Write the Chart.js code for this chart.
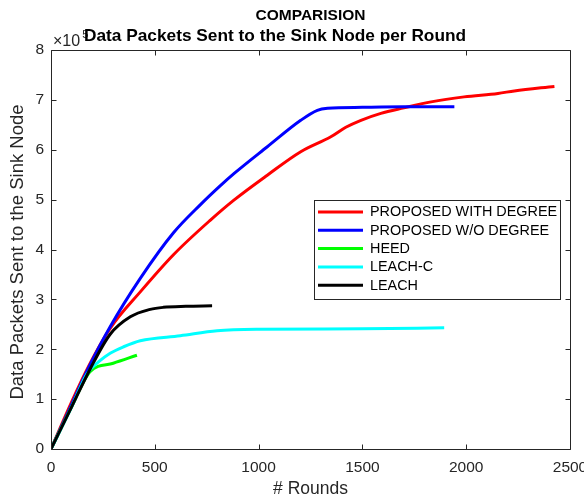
<!DOCTYPE html>
<html>
<head>
<meta charset="utf-8">
<script src="https://cdn.jsdelivr.net/npm/chart.js@4.4.1/dist/chart.umd.min.js"></script>
<style>
  html, body { margin: 0; padding: 0; background: #fff; }
  #c { display: block; }
</style>
</head>
<body>
<canvas id="c" width="584" height="500"></canvas>
<script>
// Labels
const mainTitle = 'COMPARISION';
const subTitle = 'Data Packets Sent to the Sink Node per Round';
const xAxisTitle = '# Rounds';
const yAxisTitle = 'Data Packets Sent to the Sink Node';
const yExponent = '5';
const xTickValues = [0, 500, 1000, 1500, 2000, 2500];
const yTickValues = [0, 1, 2, 3, 4, 5, 6, 7, 8];

const seriesNames = ['PROPOSED WITH DEGREE', 'PROPOSED W/O DEGREE', 'HEED', 'LEACH-C', 'LEACH'];
const seriesColors = ['#ff0000', '#0000ff', '#00ff00', '#00ffff', '#000000'];

// Rounds and cumulative packets (in units of 10^5) for each protocol
const withDegreeRounds = [0, 100, 180, 285, 430, 591, 768, 881, 1042, 1203, 1348, 1420, 1493, 1589, 1700, 1831, 1990, 2153, 2232, 2425];
const withDegreePackets = [0, 0.95, 1.65, 2.42, 3.15, 3.9, 4.59, 4.99, 5.49, 5.96, 6.26, 6.45, 6.59, 6.73, 6.84, 6.96, 7.06, 7.13, 7.18, 7.27];

const withoutDegreeRounds = [0, 100, 180, 285, 430, 591, 720, 816, 881, 1042, 1203, 1283, 1332, 1500, 1700, 1943];
const withoutDegreePackets = [0, 0.9, 1.62, 2.45, 3.42, 4.34, 4.9, 5.28, 5.52, 6.06, 6.59, 6.79, 6.83, 6.85, 6.86, 6.86];

const heedRounds = [0, 100, 188, 300, 414];
const heedPackets = [0, 0.85, 1.55, 1.72, 1.88];

const leachCRounds = [0, 100, 172, 230, 285, 350, 430, 623, 800, 1000, 1500, 1894];
const leachCPackets = [0, 0.85, 1.5, 1.75, 1.92, 2.05, 2.17, 2.27, 2.37, 2.4, 2.41, 2.43];

const leachRounds = [0, 100, 188, 285, 382, 478, 541, 650, 776];
const leachPackets = [0, 0.85, 1.6, 2.3, 2.65, 2.8, 2.84, 2.86, 2.87];

const seriesRounds = [withDegreeRounds, withoutDegreeRounds, heedRounds, leachCRounds, leachRounds];
const seriesPackets = [withDegreePackets, withoutDegreePackets, heedPackets, leachCPackets, leachPackets];

const FONT = "'Liberation Sans', Arial, Helvetica, sans-serif";
const AXIS_COLOR = '#262626';
const TICK_SIZE = 15.5;
const LABEL_SIZE = 17.5;
const Y_LABEL_SIZE = 18.5;

const datasets = seriesNames.map((name, i) => ({
  label: name,
  data: seriesRounds[i].map((r, j) => ({ x: r, y: seriesPackets[i][j] })),
  borderColor: seriesColors[i],
  backgroundColor: seriesColors[i],
  borderWidth: 3,
  pointRadius: 0,
  fill: false,
  cubicInterpolationMode: 'monotone',
  borderCapStyle: 'butt',
  order: seriesNames.length - i
}));

// Axis exponent, subtitle and y-axis label
const textPlugin = {
  id: 'extraText',
  afterDraw(chart) {
    const ctx = chart.ctx;
    const a = chart.chartArea;
    ctx.save();
    ctx.fillStyle = AXIS_COLOR;
    ctx.textBaseline = 'alphabetic';
    ctx.textAlign = 'left';
    ctx.font = `16px ${FONT}`;
    const base = '\u00d710';
    ctx.fillText(base, a.left + 2, a.top - 4);
    const w = ctx.measureText(base).width;
    ctx.font = `11px ${FONT}`;
    ctx.fillText(yExponent, a.left + 4 + w, a.top - 12);

    ctx.fillStyle = '#000';
    ctx.textAlign = 'center';
    ctx.textBaseline = 'middle';
    ctx.font = `bold 17.3px ${FONT}`;
    ctx.fillText(subTitle, 275, 36);

    ctx.fillStyle = AXIS_COLOR;
    ctx.font = `${Y_LABEL_SIZE}px ${FONT}`;
    ctx.translate(18, 252);
    ctx.rotate(-Math.PI / 2);
    ctx.fillText(yAxisTitle, 0, 0);
    ctx.restore();
  }
};

// Box outline, inward ticks and the legend
const framePlugin = {
  id: 'frame',
  afterDraw(chart) {
    const ctx = chart.ctx;
    const a = chart.chartArea;
    const xs = chart.scales.x, ys = chart.scales.y;
    const L = Math.round(a.left) + 0.5, R = Math.round(a.right) + 0.5;
    const T = Math.round(a.top) + 0.5, B = Math.round(a.bottom) + 0.5;
    ctx.save();
    ctx.strokeStyle = AXIS_COLOR;
    ctx.lineWidth = 1;
    ctx.beginPath();
    ctx.rect(L, T, R - L, B - T);
    const tl = 5;
    xTickValues.forEach(v => {
      const px = Math.round(xs.getPixelForValue(v)) + 0.5;
      ctx.moveTo(px, B); ctx.lineTo(px, B - tl);
      ctx.moveTo(px, T); ctx.lineTo(px, T + tl);
    });
    yTickValues.forEach(v => {
      const py = Math.round(ys.getPixelForValue(v)) + 0.5;
      ctx.moveTo(L, py); ctx.lineTo(L + tl, py);
      ctx.moveTo(R, py); ctx.lineTo(R - tl, py);
    });
    ctx.stroke();

    // legend
    const lx = 314.5, ly = 200.5, lw = 246, lh = 99;
    ctx.fillStyle = '#fff';
    ctx.fillRect(lx, ly, lw, lh);
    ctx.strokeStyle = AXIS_COLOR;
    ctx.strokeRect(lx, ly, lw, lh);
    ctx.font = `14.4px ${FONT}`;
    ctx.textBaseline = 'middle';
    ctx.textAlign = 'left';
    chart.data.datasets.forEach((ds, i) => {
      const y = 212 + i * 18.3;
      ctx.strokeStyle = ds.borderColor;
      ctx.lineWidth = 3;
      ctx.beginPath();
      ctx.moveTo(318, y); ctx.lineTo(363, y);
      ctx.stroke();
      ctx.fillStyle = '#000';
      ctx.fillText(ds.label, 370, y + 0.5);
    });
    ctx.restore();
  }
};

new Chart(document.getElementById('c'), {
  type: 'line',
  data: { datasets },
  plugins: [textPlugin, framePlugin],
  options: {
    responsive: false,
    animation: false,
    events: [],
    layout: { padding: 0 },
    plugins: {
      legend: { display: false },
      tooltip: { enabled: false },
      title: {
        display: true,
        text: mainTitle,
        fullSize: false,
        color: '#000',
        font: { family: FONT, size: 15.5, weight: 'bold', lineHeight: 1.2 },
        padding: { top: 6, bottom: 25.4 }
      }
    },
    scales: {
      x: {
        type: 'linear',
        min: 0, max: 2500,
        afterBuildTicks: s => { s.ticks = xTickValues.map(v => ({ value: v })); },
        afterFit: s => { s.height = 51; s.paddingLeft = 0; s.paddingRight = 14; },
        grid: { display: false, drawTicks: false },
        border: { display: false },
        ticks: {
          color: AXIS_COLOR, font: { family: FONT, size: TICK_SIZE }, padding: 9, maxRotation: 0,
          callback: v => String(v)
        },
        title: { display: true, text: xAxisTitle, color: AXIS_COLOR, font: { family: FONT, size: LABEL_SIZE, lineHeight: 1.2 }, padding: { top: 0, bottom: 0 } }
      },
      y: {
        type: 'linear',
        min: 0, max: 8,
        afterBuildTicks: s => { s.ticks = yTickValues.map(v => ({ value: v })); },
        afterFit: s => { s.width = 51; s.paddingTop = 0; s.paddingBottom = 0; },
        grid: { display: false, drawTicks: false },
        border: { display: false },
        ticks: { color: AXIS_COLOR, font: { family: FONT, size: TICK_SIZE }, padding: 7, callback: v => String(v) },
        title: { display: false }
      }
    }
  }
});
</script>
</body>
</html>
